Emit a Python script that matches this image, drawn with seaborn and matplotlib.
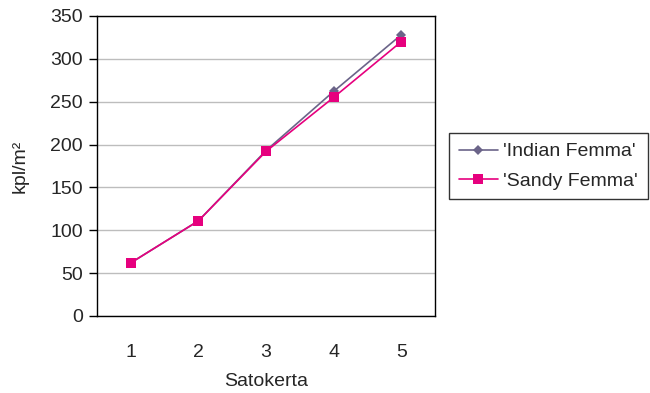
import matplotlib
matplotlib.use("Agg")
import matplotlib.pyplot as plt
import seaborn as sns
import pandas as pd
import numpy as np

categories = [1, 2, 3, 4, 5]
indian = [62, 111, 193, 262, 328]
sandy = [62, 111, 192, 255, 320]
series_names = ["'Indian Femma'", "'Sandy Femma'"]
yticks = [0, 50, 100, 150, 200, 250, 300, 350]

sns.set_theme(style="white")
plt.rcParams['font.family'] = ['Liberation Sans', 'DejaVu Sans']

df = pd.DataFrame({
    "Satokerta": categories * 2,
    "value": indian + sandy,
    "series": [series_names[0]] * 5 + [series_names[1]] * 5,
})

fig = plt.figure(figsize=(6.5, 3.93), dpi=100)
ax = fig.add_axes([97/650, 77/393, 338/650, 300/393])

colors = {series_names[0]: "#6B6489", series_names[1]: "#E6007E"}
markers = {series_names[0]: "D", series_names[1]: "s"}
sizes = {series_names[0]: 5, series_names[1]: 7}
for name in series_names:
    sub = df[df.series == name]
    sns.lineplot(data=sub, x="Satokerta", y="value", ax=ax, color=colors[name],
                 marker=markers[name], markersize=sizes[name], markeredgewidth=0,
                 linewidth=1.2, label=name)

fs = 14
ax.set_xlim(0.5, 5.5)
ax.set_ylim(0, 350)
ax.set_yticks(yticks)
ax.set_xticks(categories)
ax.set_xticks(np.arange(0.5, 6, 1), minor=True)
ax.tick_params(axis="x", which="major", length=0, labelsize=fs, pad=20)
ax.tick_params(axis="x", which="minor", length=5, width=1, color="black", direction="out")
ax.tick_params(axis="y", length=6, width=1, color="black", direction="out", labelsize=fs, left=True, pad=4)
ax.yaxis.grid(True, color="#BDBDBD", linewidth=1)
ax.set_axisbelow(True)
for s in ax.spines.values():
    s.set_color("black")
    s.set_linewidth(1)
ax.set_xlabel("Satokerta", fontsize=fs)
ax.set_ylabel("kpl/m²", fontsize=fs)
ax.xaxis.set_label_coords(0.5, (316 - 382) / 300)
ax.xaxis.label.set_va("center")
ax.yaxis.set_label_coords((20 - 97) / 338, 0.5)
ax.yaxis.label.set_va("center")

leg = ax.legend(loc="upper left", bbox_to_anchor=(449/650, 1 - 133/393), bbox_transform=fig.transFigure,
                frameon=True, fancybox=False, edgecolor="black", fontsize=fs,
                handlelength=2.0, handletextpad=0.3, borderpad=0.5, labelspacing=0.6,
                borderaxespad=0)
leg.get_frame().set_linewidth(1)

fig.savefig("out.png", dpi=100)
